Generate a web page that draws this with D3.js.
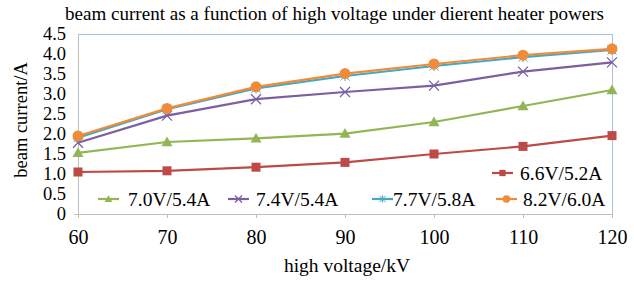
<!DOCTYPE html>
<html>
<head>
<meta charset="utf-8">
<script src="https://cdn.jsdelivr.net/npm/d3@7"></script>
<style>
  body { margin: 0; background: #fff; }
  svg { display: block; }
  svg text { font-family: "Liberation Serif", "Times New Roman", serif; fill: #000; }
</style>
</head>
<body>
<svg id="chart" width="634" height="282"></svg>
<script>
// tensão (kV) x corrente do feixe (A), uma série por potência do aquecedor
const voltages = [60, 70, 80, 90, 100, 110, 120];
const s66 = [1.05, 1.08, 1.17, 1.29, 1.50, 1.69, 1.96];
const s70 = [1.53, 1.80, 1.89, 2.01, 2.30, 2.70, 3.10];
const s74 = [1.78, 2.46, 2.87, 3.05, 3.21, 3.56, 3.79];
const s77 = [1.91, 2.62, 3.14, 3.45, 3.70, 3.92, 4.10];
const s82 = [1.95, 2.64, 3.18, 3.51, 3.75, 3.97, 4.13];
const yTicks = [0, 0.5, 1.0, 1.5, 2.0, 2.5, 3.0, 3.5, 4.0, 4.5];
const yTickLabels = ['0', '0.5', '1.0', '1.5', '2.0', '2.5', '3.0', '3.5', '4.0', '4.5'];

const series = [
  { name: '6.6V/5.2A', values: s66, color: '#bd4a47', marker: 'square' },
  { name: '7.0V/5.4A', values: s70, color: '#92b655', marker: 'triangle' },
  { name: '7.4V/5.4A', values: s74, color: '#7b5fa3', marker: 'x' },
  { name: '7.7V/5.8A', values: s77, color: '#44a8c3', marker: 'star' },
  { name: '8.2V/6.0A', values: s82, color: '#ef8c3c', marker: 'circle' },
];

const svg = d3.select('#chart');
const m = { left: 78, right: 22, top: 34, bottom: 68 };
const W = 634, H = 282;

const x = d3.scaleLinear().domain([60, 120]).range([m.left, W - m.right]);
const y = d3.scaleLinear().domain([0, 4.5]).range([H - m.bottom, m.top]);

// título
svg.append('text')
  .attr('x', 65).attr('y', 20)
  .attr('font-size', 18)
  .attr('textLength', 539).attr('lengthAdjust', 'spacingAndGlyphs')
  .text('beam current as a function of high voltage under dierent heater powers');

// moldura superior/direita azul clara
svg.append('line')
  .attr('x1', x(60)).attr('x2', x(120)).attr('y1', y(4.5) + 0.5).attr('y2', y(4.5) + 0.5)
  .attr('stroke', '#a9c3e3').attr('stroke-width', 1);
svg.append('line')
  .attr('x1', x(120) + 0.5).attr('x2', x(120) + 0.5).attr('y1', y(4.5)).attr('y2', y(0))
  .attr('stroke', '#a9c3e3').attr('stroke-width', 1);

// eixo x
const xAxis = svg.append('g')
  .attr('transform', `translate(0,${y(0)})`)
  .call(d3.axisBottom(x).tickValues(voltages).tickSize(4).tickPadding(12).tickFormat(d3.format('d')));
xAxis.select('.domain').attr('stroke', '#bfbfbf').attr('d', `M${x(60) - 4},0.5H${x(120)}`);
xAxis.selectAll('.tick line').attr('stroke', '#bfbfbf');
xAxis.selectAll('.tick text').attr('font-size', 20);

// eixo y
const yAxis = svg.append('g')
  .attr('transform', `translate(${x(60)},0)`)
  .call(d3.axisLeft(y).tickValues(yTicks).tickSize(0).tickPadding(12)
    .tickFormat((d, i) => yTickLabels[i]));
yAxis.select('.domain').attr('stroke', '#bfbfbf');
yAxis.selectAll('.tick text').attr('font-size', 18.5);

// rótulos dos eixos
svg.append('text')
  .attr('x', 347).attr('y', 272)
  .attr('text-anchor', 'middle').attr('font-size', 19.5)
  .text('high voltage/kV');
svg.append('text')
  .attr('transform', 'translate(27,120) rotate(-90)')
  .attr('text-anchor', 'middle').attr('font-size', 18.5)
  .text('beam current/A');

function drawMarker(g, type, color, cx, cy, k = 1) {
  if (type === 'square') {
    const h = 4.5 * k;
    g.append('rect').attr('x', cx - h).attr('y', cy - h).attr('width', 2 * h).attr('height', 2 * h)
      .attr('fill', color);
  } else if (type === 'triangle') {
    const h = 5.5 * k;
    g.append('path').attr('d', `M${cx},${cy - h}L${cx + h},${cy + h * 0.75}L${cx - h},${cy + h * 0.75}Z`)
      .attr('fill', color);
  } else if (type === 'x') {
    const h = 5 * k;
    g.append('path').attr('d', `M${cx - h},${cy - h}L${cx + h},${cy + h}M${cx - h},${cy + h}L${cx + h},${cy - h}`)
      .attr('stroke', color).attr('stroke-width', 1.3);
  } else if (type === 'star') {
    const h = 4.5 * k;
    g.append('path').attr('d', `M${cx - h},${cy - h}L${cx + h},${cy + h}M${cx - h},${cy + h}L${cx + h},${cy - h}M${cx},${cy - h - 0.5}L${cx},${cy + h + 0.5}`)
      .attr('stroke', color).attr('stroke-width', 1);
  } else if (type === 'circle') {
    g.append('circle').attr('cx', cx).attr('cy', cy).attr('r', 5.5 * k).attr('fill', color);
  }
}

const line = d3.line().x((d, i) => x(voltages[i])).y((d) => y(d));

// séries
for (const s of series) {
  const g = svg.append('g');
  g.append('path').datum(s.values)
    .attr('d', line).attr('fill', 'none')
    .attr('stroke', s.color).attr('stroke-width', 2.2);
  s.values.forEach((v, i) => drawMarker(g, s.marker, s.color, x(voltages[i]), y(v)));
}

// legenda (6.6V numa linha, as outras quatro abaixo)
const legendPos = [
  { lx: 492, tx: 520, ly: 173 },
  { lx: 98, tx: 128, ly: 199 },
  { lx: 228, tx: 256, ly: 199 },
  { lx: 372, tx: 393, ly: 199 },
  { lx: 496, tx: 523, ly: 199 },
];
series.forEach((s, i) => {
  const p = legendPos[i];
  const g = svg.append('g');
  g.append('line').attr('x1', p.lx).attr('x2', p.lx + 21).attr('y1', p.ly).attr('y2', p.ly)
    .attr('stroke', s.color).attr('stroke-width', 2.2);
  drawMarker(g, s.marker, s.color, p.lx + 10.5, p.ly, 0.7);
  g.append('text').attr('x', p.tx).attr('y', p.ly + 6.5)
    .attr('font-size', 19.5).text(s.name);
});
</script>
</body>
</html>
